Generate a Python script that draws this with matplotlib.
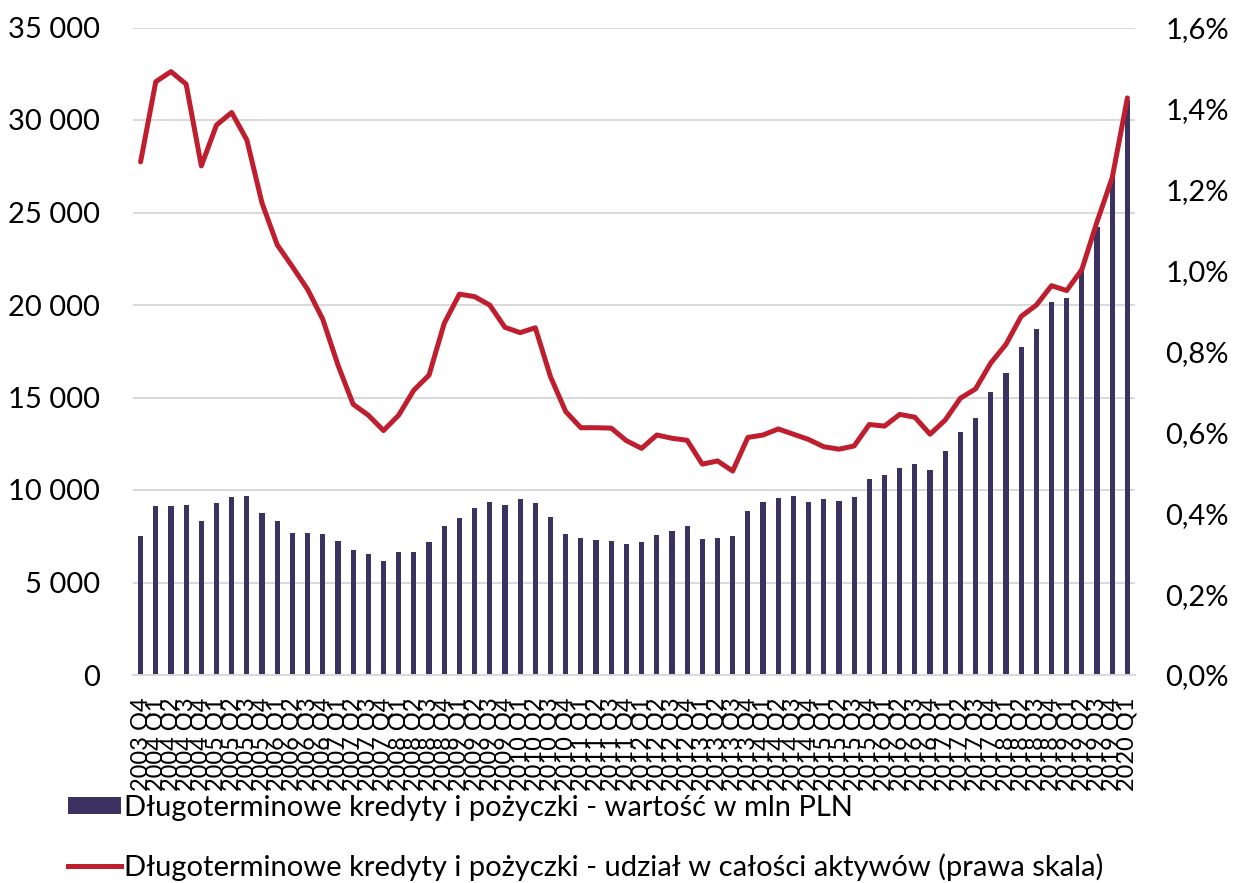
import matplotlib
matplotlib.use('Agg')
import numpy as np
import matplotlib.pyplot as plt
from matplotlib.ticker import FuncFormatter
from matplotlib.patches import Patch
from matplotlib.lines import Line2D

plt.rcParams['font.family'] = ['Lato', 'DejaVu Sans']

# %% data: 2003 Q4 .. 2020 Q1
quarters = ['2003 Q4'] + [f'{y} Q{q}' for y in range(2004, 2020) for q in range(1, 5)] + ['2020 Q1']

value_mln = [7500, 9110, 9130, 9170, 8300, 9290, 9610, 9700, 8770, 8350,
             7690, 7670, 7600, 7270, 6730, 6520, 6140, 6630, 6660, 7200,
             8050, 8460, 9020, 9340, 9170, 9530, 9300, 8540, 7600, 7400,
             7280, 7240, 7060, 7190, 7590, 7770, 8040, 7350, 7400, 7500,
             8850, 9330, 9590, 9680, 9350, 9500, 9390, 9630, 10580, 10790,
             11210, 11390, 11060, 12110, 13110, 13900, 15320, 16320, 17710, 18720,
             20150, 20380, 21900, 24200, 26900, 31100]

share_pct = [1.268, 1.466, 1.491, 1.460, 1.258, 1.359, 1.390, 1.322, 1.166, 1.063,
             1.009, 0.953, 0.879, 0.766, 0.669, 0.642, 0.604, 0.642, 0.704, 0.741,
             0.869, 0.941, 0.935, 0.914, 0.859, 0.846, 0.858, 0.737, 0.651, 0.611,
             0.611, 0.610, 0.579, 0.560, 0.593, 0.585, 0.580, 0.521, 0.529, 0.504,
             0.587, 0.593, 0.608, 0.595, 0.582, 0.564, 0.558, 0.566, 0.619, 0.615,
             0.644, 0.637, 0.595, 0.630, 0.684, 0.707, 0.771, 0.817, 0.886, 0.914,
             0.962, 0.950, 1.002, 1.120, 1.229, 1.426]

label_bar = 'Długoterminowe kredyty i pożyczki - wartość w mln PLN'
label_line = 'Długoterminowe kredyty i pożyczki - udział w całości aktywów (prawa skala)'

BAR_C = '#3B3262'
LINE_C = '#BE1E2D'
GRID_C = '#D9D9D9'

# %%
fig = plt.figure(figsize=(12.35, 8.83), dpi=100)
ax = fig.add_axes([133/1235, 1-675/883, 1002/1235, 647.5/883])
ax2 = ax.twinx()

x = np.arange(len(quarters))
ax.bar(x, value_mln, width=0.34, color=BAR_C, zorder=2)
ax2.plot(x, share_pct, color=LINE_C, lw=3.6, solid_joinstyle='round', solid_capstyle='round')

ax.set_xlim(-0.5, len(quarters) - 0.5)
ax.set_ylim(0, 35000)
ax.set_yticks(np.arange(0, 35001, 5000))
ax.yaxis.set_major_formatter(FuncFormatter(lambda v, p: f'{int(v):,}'.replace(',', ' ')))
ax2.set_ylim(0, 1.6)
ax2.set_yticks(np.arange(0, 1.61, 0.2))
ax2.yaxis.set_major_formatter(FuncFormatter(lambda v, p: f'{v:.1f}%'.replace('.', ',')))

ax.set_xticks(x)
ax.set_xticklabels(quarters, rotation=90, fontsize=17)
ax.set_axisbelow(True)
ax.grid(axis='y', color=GRID_C, lw=1.4)

for a in (ax, ax2):
    for s in a.spines.values():
        s.set_visible(False)
ax.spines['bottom'].set_visible(True)
ax.spines['bottom'].set_color(GRID_C)
ax.spines['bottom'].set_linewidth(1.4)

ax.tick_params(axis='y', length=0, labelsize=21, pad=24)
ax2.tick_params(axis='y', length=0, labelsize=21, pad=22)
ax.tick_params(axis='x', length=0, pad=16)

handles = [Patch(facecolor=BAR_C, edgecolor='none'),
           Line2D([0], [0], color=LINE_C, lw=3.6)]
fig.legend(handles, [label_bar, label_line], loc='upper left',
           bbox_to_anchor=(68/1235, 1-795/883), frameon=False, fontsize=21,
           handlelength=1.8, handleheight=0.5, handletextpad=0.12,
           labelspacing=1.1, borderpad=0, borderaxespad=0)

fig.savefig('out.png', dpi=100)
